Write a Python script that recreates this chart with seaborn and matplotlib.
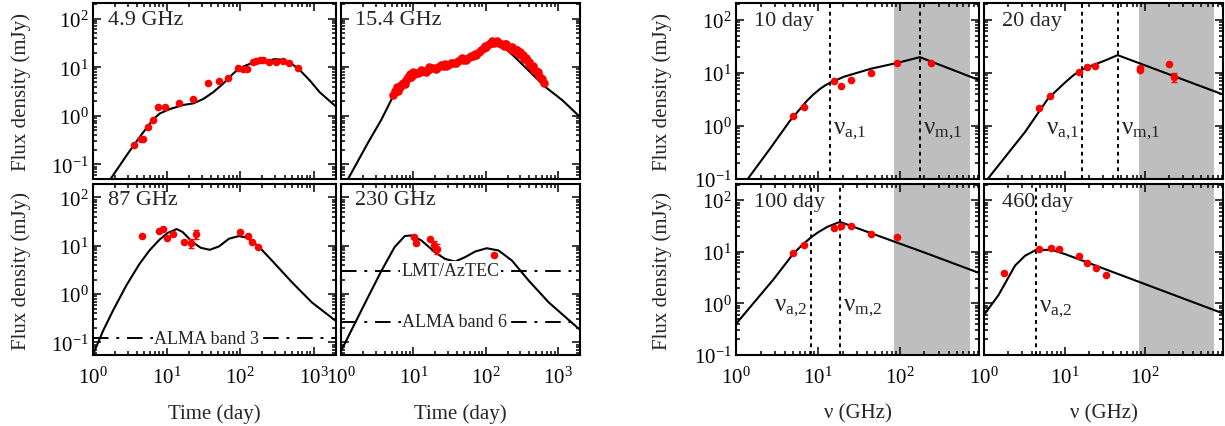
import numpy as np
import pandas as pd
import matplotlib
matplotlib.use("Agg")
import matplotlib.pyplot as plt
import seaborn as sns
from matplotlib.ticker import LogLocator, NullFormatter, LogFormatterSciNotation

# ---------------- data ----------------
# Light curves: time (day), flux density (mJy)
t49_obs = [3.64, 4.48, 4.82, 5.58, 6.59, 7.63, 9.49, 14.9, 22.5, 36, 50.8, 68, 93, 110, 124,
           150, 166, 185, 204, 246, 302, 381, 462, 600]
f49_obs = [0.245, 0.337, 0.337, 0.60, 0.83, 1.49, 1.49, 1.84, 2.19, 4.79, 5.1, 6.1, 9.8, 9.4, 9.4,
           12.9, 13.7, 14.0, 14.4, 12.9, 12.9, 13.7, 12.3, 9.5]
t49_mod = [1.65, 3.0, 4.5, 6.6, 8.1, 11.1, 16.8, 23, 31.5, 43, 58.5, 80, 99, 135, 204, 295, 381,
           495, 647, 880, 1200, 2000]
f49_mod = [0.045, 0.17, 0.40, 0.85, 1.12, 1.38, 1.67, 1.8, 2.22, 3.06, 4.57, 7.36, 9.7, 11.7, 12.9,
           14.7, 14.2, 11.9, 8.7, 5.35, 3.06, 1.55]

t154_obs = [5.22, 5.81, 6.46, 7.18, 7.98, 8.88, 9.87, 11.0, 12.2, 13.6, 15.9, 18.7, 22.0, 25.8,
            30.3, 35.6, 41.8, 49.1, 57.6, 67.6, 79.4, 93.2, 109, 128, 150, 176, 207, 242, 284,
            334, 392, 460, 540, 634,
            5.5, 6.1, 6.8, 7.6, 8.4, 9.3, 10.4, 11.6, 12.9, 14.7, 17.2, 20.3, 23.8, 28.0, 32.8,
            38.6, 45.3, 53.2, 62.4, 73.3, 86.0, 101, 118, 139, 163, 191, 224, 262, 308, 362, 425,
            500, 585,
            6.0, 9.0, 270, 300, 330, 360, 400, 450, 520, 600,
            10.0, 16.5, 27.0, 47.0, 70.0, 96.0, 120, 145, 185, 230]
f154_obs = [2.65, 3.25, 3.92, 4.73, 5.53, 6.26, 6.88, 7.55, 7.9, 8.3, 8.8, 9.5, 10.0, 10.6,
            11.3, 12.4, 13.7, 14.3, 15.2, 17.3, 20.2, 24.7, 29.8, 31.8, 30.8, 27.6, 25.5, 21.8, 18.7,
            14.8, 11.7, 8.8, 6.45, 4.73,
            3.2, 3.3, 4.4, 4.6, 6.2, 6.3, 7.6, 7.5, 8.6, 8.1, 9.6, 9.2, 10.9, 10.4, 12.3,
            12.0, 15.0, 14.2, 17.0, 17.8, 23.0, 25.5, 31.5, 33.5, 30.5, 29.5, 24.0, 22.5, 17.5, 14.5,
            10.8, 8.5, 6.0,
            3.9, 7.2, 23.0, 21.0, 18.0, 15.5, 13.0, 10.5, 7.8, 5.8,
            7.9, 9.9, 11.4, 15.4, 18.9, 28.0, 34.5, 34.0, 30.0, 26.5]
t154_mod = [1.26, 2.35, 3.59, 5.06, 6.8, 9.37, 14.4, 24.5, 41.6, 54.5, 71.2, 92.7, 114.6, 141.6,
            184, 254, 350, 483, 666, 1138, 2090]
f154_mod = [0.051, 0.276, 0.82, 2.27, 3.92, 5.8, 8.17, 10.5, 12.6, 13.7, 17.3, 23.6, 31.3, 30.8,
            24.7, 16.0, 10.0, 6.26, 3.92, 2.1, 0.89]

t87_obs = [4.64, 7.8, 8.84, 10.0, 12.1, 17.3, 21.6, 24.9, 99, 128, 145, 172]
f87_obs = [15.9, 20.5, 21.9, 14.7, 17.5, 12.1, 11.5, 17.5, 19.0, 15.6, 11.9, 9.4]
e87_obs = [0, 0, 0, 0, 0, 0, 2.5, 3.5, 0, 0, 0, 0]
t87_mod = [1, 1.365, 1.86, 2.82, 4.27, 5.84, 7.96, 10.3, 13.7, 16.5, 22.5, 29.1, 38.5, 51.5, 70.3,
           95.8, 124, 178, 270, 506, 944, 1940]
f87_mod = [0.056, 0.172, 0.45, 1.49, 4.2, 8.0, 13.3, 18.4, 22.2, 19.3, 11.9, 9.1, 8.26, 9.7, 14.0,
           15.9, 14.7, 9.7, 4.94, 1.75, 0.67, 0.287]

t230_obs = [10.2, 11.0, 17.0, 19.4, 21.3, 129]
f230_obs = [15.2, 11.5, 13.5, 10.2, 8.7, 6.3]
e230_obs = [0, 0, 0, 2.5, 2.0, 0]
t230_mod = [1, 1.53, 2.35, 3.59, 5.5, 7.59, 9.37, 12.9, 19.8, 27.3, 37.5, 51.5, 71, 103, 150, 230,
            392, 743, 2090]
f230_mod = [0.066, 0.237, 0.853, 2.97, 9.4, 15.9, 16.4, 12.9, 7.4, 5.36, 4.72, 5.8, 7.6, 8.9, 8.0,
            4.94, 1.9, 0.67, 0.172]

# sensitivity limits (mJy)
alma_b3 = 0.121
lmt_aztec = 3.06
alma_b6 = 0.265

# Spectra: frequency (GHz), flux density (mJy)
nu10_obs = [4.96, 6.78, 15.6, 19.4, 25.1, 45, 92, 240]
f10_obs = [1.52, 2.22, 6.96, 5.6, 7.2, 10.1, 15.2, 15.2]
nu10_mod = [1.39, 2.58, 4.55, 7.32, 8.85, 10.7, 12.3, 14.2, 20.7, 44.3, 94.3, 176, 930]
f10_mod = [0.1, 0.365, 1.24, 2.94, 3.93, 5.0, 5.8, 6.5, 8.4, 11.9, 15.4, 19.7, 7.3]

nu20_obs = [4.84, 6.63, 15.2, 19.0, 24.1, 85.8, 85.8, 199, 227]
f20_obs = [2.19, 3.63, 10.4, 12.6, 13.2, 12.3, 11.2, 14.8, 8.3]
e20_obs = [0, 0, 0, 0, 0, 0, 0, 0, 1.5]
nu20_mod = [1.11, 3.24, 6.25, 10.2, 12.9, 16.7, 21.9, 32.1, 45.7, 930]
f20_mod = [0.1, 0.77, 3.28, 6.6, 9.0, 11.6, 13.7, 17.1, 21.5, 3.9]

nu100_obs = [4.96, 6.78, 15.6, 19.4, 25.1, 45, 92]
f100_obs = [9.3, 13.7, 28.3, 31.9, 31.9, 22.6, 19.0]
nu100_mod = [1, 2.89, 4.96, 6.16, 8.2, 10.0, 13.1, 18.6, 203, 930]
f100_mod = [0.4, 2.96, 9.0, 12.7, 18.9, 23.7, 30.5, 38, 9.6, 3.9]

nu460_obs = [1.79, 4.89, 6.7, 8.6, 15.2, 19.1, 24.3, 33]
f460_obs = [3.86, 11.2, 12.1, 11.2, 8.3, 6.2, 4.88, 3.63]
nu460_mod = [1, 1.51, 2.43, 3.24, 4.44, 6.95, 10.2, 930]
f460_mod = [0.6, 1.44, 5.4, 8.4, 10.9, 10.9, 9.0, 0.64]

# break frequencies (GHz)
nu_a1_10, nu_m1_10 = 14.1, 176
nu_a1_20, nu_m1_20 = 16.7, 45.7
nu_a2_100, nu_m2_100 = 8.2, 18.6
nu_a2_460 = 4.44

# ALMA frequency coverage (GHz)
alma_band = (84, 720)

# ---------------- style ----------------
sns.set_theme(style="ticks")
plt.rcParams["font.family"] = ["Liberation Serif", "DejaVu Serif"]
plt.rcParams["mathtext.fontset"] = "custom"
plt.rcParams["mathtext.rm"] = "Liberation Serif"
plt.rcParams["mathtext.it"] = "Liberation Serif:italic"
plt.rcParams["mathtext.bf"] = "Liberation Serif:bold"

W, H = 1225, 427
fig = plt.figure(figsize=(W / 100, H / 100), dpi=100)


def add(x0, x1, ytop, ybot):
    return fig.add_axes([x0 / W, 1 - ybot / H, (x1 - x0) / W, (ybot - ytop) / H])


def style(ax, xlim, ylim, xlab, ylab):
    ax.set_xscale("log")
    ax.set_yscale("log")
    ax.set_xlim(*xlim)
    ax.set_ylim(*ylim)
    for axis in (ax.xaxis, ax.yaxis):
        axis.set_major_locator(LogLocator(base=10, numticks=12))
        axis.set_minor_locator(LogLocator(base=10, subs=np.arange(2, 10), numticks=100))
        axis.set_minor_formatter(NullFormatter())
        axis.set_major_formatter(LogFormatterSciNotation())
    ax.tick_params(which="both", direction="in", top=True, right=True, width=1.1,
                   labelsize=15, colors="black")
    ax.tick_params(which="major", length=5.5)
    ax.tick_params(which="minor", length=3)
    ax.tick_params(axis="x", pad=8)
    ax.tick_params(axis="y", pad=3)
    ax.tick_params(labelbottom=xlab, labelleft=ylab)
    for s in ax.spines.values():
        s.set_linewidth(1.5)
        s.set_color("black")
    ax.set_xlabel("")
    ax.set_ylabel("")


def draw(ax, xo, yo, xm, ym, err=None, ms=30):
    sns.lineplot(x=xm, y=ym, ax=ax, color="black", lw=1.5, sort=False, estimator=None,
                 zorder=3)
    if err is not None:
        ax.errorbar(xo, yo, yerr=err, fmt="none", ecolor="red", elinewidth=1.4, capsize=2,
                    zorder=4)
    sns.scatterplot(x=xo, y=yo, ax=ax, color="red", s=ms, linewidth=0, zorder=5, legend=False)


def hline(ax, y, label, xt):
    ax.axhline(y, color="black", lw=1.4, ls=(0, (8, 4, 1.5, 4)), zorder=2)
    ax.text(xt, y, label, ha="center", va="center", fontsize=13, zorder=6,
            bbox=dict(facecolor="white", edgecolor="none", pad=1.0))


def vline(ax, x, label, side, ylab):
    ax.axvline(x, color="black", lw=1.4, ls=(0, (2, 2)), zorder=2)
    if label:
        fac = 1.1 if side == "right" else 1 / 1.1
        ax.text(x * fac, ylab, label, ha="left" if side == "right" else "right",
                va="center", fontsize=18, zorder=6)


def panel_label(ax, s, x=0.06, y=0.905):
    ax.text(x, y, s, transform=ax.transAxes, ha="left", va="center", fontsize=16)


xl_lc = (1, 2000)
ytop_lc = (0.05, 210)
ybot_lc = (0.055, 190)

# Left group
a1 = add(93, 336, 4, 180)
draw(a1, t49_obs, f49_obs, t49_mod, f49_mod)
style(a1, xl_lc, ytop_lc, False, True)
panel_label(a1, "4.9 GHz")

a2 = add(341, 580, 4, 180)
draw(a2, t154_obs, f154_obs, t154_mod, f154_mod, ms=38)
style(a2, xl_lc, ytop_lc, False, False)
panel_label(a2, "15.4 GHz")

a3 = add(93, 336, 185, 356)
draw(a3, t87_obs, f87_obs, t87_mod, f87_mod, err=e87_obs)
style(a3, xl_lc, ybot_lc, True, True)
hline(a3, alma_b3, "ALMA band 3", 35)
panel_label(a3, "87 GHz", y=0.912)

a4 = add(341, 580, 185, 356)
draw(a4, t230_obs, f230_obs, t230_mod, f230_mod, err=e230_obs)
style(a4, xl_lc, ybot_lc, True, False)
hline(a4, lmt_aztec, "LMT/AzTEC", 32.6)
hline(a4, alma_b6, "ALMA band 6", 37)
panel_label(a4, "230 GHz", y=0.912)

for ax in (a1, a3):
    ax.set_ylabel("Flux density (mJy)", fontsize=15)
    ax.yaxis.set_label_coords(-0.255, 0.5)
for ax in (a3, a4):
    ax.set_xlabel("Time (day)", fontsize=15)
    ax.xaxis.set_label_coords(0.5, -0.28)

# Right group
xl_sp = (1, 930)
yl_sp = (0.1, 206)
gray = "#bebebe"

b1 = add(736, 979, 4, 180)
b1.axvspan(*alma_band, color=gray, lw=0, zorder=0)
draw(b1, nu10_obs, f10_obs, nu10_mod, f10_mod)
vline(b1, nu_a1_10, r"ν$_{\mathregular{a{,}1}}$", "right", 0.85)
vline(b1, nu_m1_10, r"ν$_{\mathregular{m{,}1}}$", "right", 0.85)
style(b1, xl_sp, yl_sp, False, True)
panel_label(b1, "10 day", x=0.075, y=0.9)

b2 = add(984, 1223, 4, 180)
b2.axvspan(*alma_band, color=gray, lw=0, zorder=0)
draw(b2, nu20_obs, f20_obs, nu20_mod, f20_mod, err=e20_obs)
vline(b2, nu_a1_20, r"ν$_{\mathregular{a{,}1}}$", "left", 0.85)
vline(b2, nu_m1_20, r"ν$_{\mathregular{m{,}1}}$", "right", 0.85)
style(b2, xl_sp, yl_sp, False, False)
panel_label(b2, "20 day", x=0.075, y=0.9)

b3 = add(736, 979, 185, 356)
b3.axvspan(*alma_band, color=gray, lw=0, zorder=0)
draw(b3, nu100_obs, f100_obs, nu100_mod, f100_mod)
vline(b3, nu_a2_100, r"ν$_{\mathregular{a{,}2}}$", "left", 0.85)
vline(b3, nu_m2_100, r"ν$_{\mathregular{m{,}2}}$", "right", 0.85)
style(b3, xl_sp, yl_sp, True, True)
panel_label(b3, "100 day", x=0.075, y=0.9)

b4 = add(984, 1223, 185, 356)
b4.axvspan(*alma_band, color=gray, lw=0, zorder=0)
draw(b4, nu460_obs, f460_obs, nu460_mod, f460_mod)
vline(b4, nu_a2_460, r"ν$_{\mathregular{a{,}2}}$", "right", 0.8)
style(b4, xl_sp, yl_sp, True, False)
panel_label(b4, "460 day", x=0.075, y=0.9)

for ax in (b1, b3):
    ax.set_ylabel("Flux density (mJy)", fontsize=15)
    ax.yaxis.set_label_coords(-0.265, 0.5)
for ax in (b3, b4):
    ax.set_xlabel("ν (GHz)", fontsize=15)
    ax.xaxis.set_label_coords(0.5, -0.28)

fig.savefig("out.png", dpi=100)
